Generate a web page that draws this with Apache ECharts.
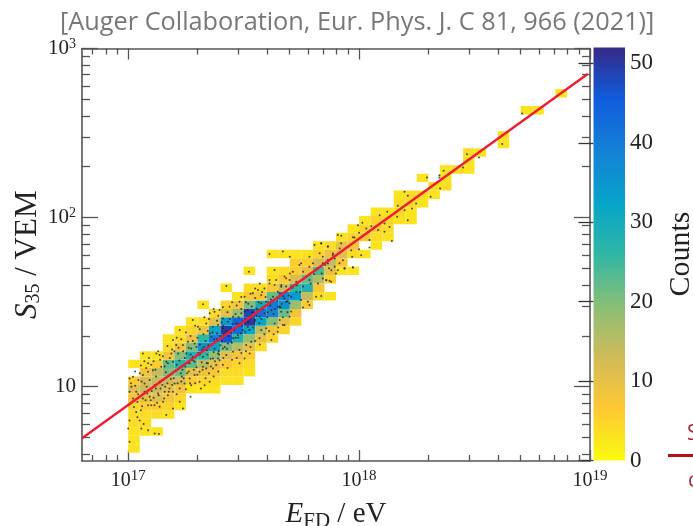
<!DOCTYPE html>
<html><head><meta charset="utf-8">
<style>html,body{margin:0;padding:0;background:#fff}#c{width:693px;height:526px}</style>
<script src="https://cdn.jsdelivr.net/npm/echarts@6/dist/echarts.min.js"></script>
</head><body><div id="c"></div>
<script>
// ---- data, in log10 units ----
const xRange = [16.8, 19];
const yRange = [0.5606, 3];
const binWidth = 0.05;
const xBinStart = 17;
const yBinStart = 1.01;
// per column: first row, then counts going up (0 = empty bin)
const columnFirstRow = [-8,-6,-6,-4,-3,-1,-1,-1,0,0,1,4,5,6,7,9,10,10,13,13,15,16,17,19,19,21,22,23,25,25,27,0,28,0,32,32,0,34];
const columnCounts = [
 [3,3,3,4,4,5,8,11,6,0,3],
 [3,4,4,6,10,13,12,8,4,3],
 [3,0,4,6,11,13,14,14,6,3],
 [3,5,8,10,13,20,22,8,4,3],
 [3,5,8,12,21,27,20,8,4,3],
 [3,6,10,22,28,20,9,5,3],
 [3,5,9,15,26,36,26,9,4,0,3],
 [3,4,7,10,18,32,40,32,11,4],
 [3,4,7,11,20,46,50,34,10,5,0,3],
 [3,4,5,8,15,28,42,44,18,8,3],
 [3,4,6,10,18,32,50,48,20,7,4,0,3],
 [4,10,15,32,42,30,7,4],
 [5,8,20,38,40,22,7,4,3,0,3],
 [5,10,22,36,38,14,6,4,0,3],
 [5,8,18,34,26,12,6,6,3],
 [6,14,28,22,10,6,3],
 [4,7,16,24,12,5,3],
 [3,0,5,10,14,9,4],
 [3,7,11,10,3],
 [3,0,4,8,5,3],
 [3,0,7,5,3],
 [3,4,6,5,3],
 [3,4,5,3],
 [3,4,4,3],
 [3,3,4,4],
 [3,4,0,3],
 [3,4],
 [4,3,3],
 [4],
 [3,3,4],
 [3],
 [],
 [3,4],
 [],
 [3],
 [3],
 [],
 [3]
];
// individual events: logE, logS pairs
const eventPairs = [
17.00,.753,17.006,.674,17.05,.80,17.04,.82,17.057,.753,17.067,.78,17.086,.743,17.115,.723,17.133,.72,17.035,.85,17.006,.80,
17.086,1.138,17.194,1.276,17.223,1.335,17.122,1.197,17.136,1.187,17.064,1.197,17.006,1.049,17.021,1.059,17.05,1.079,17.064,1.069,17.086,1.088,17.107,1.098,17.143,1.118,17.172,1.138,17.194,1.147,17.216,1.197,17.237,1.246,17.208,1.246,17.187,1.197,17.165,1.147,17.259,1.266,17.252,1.197,17.273,1.226,17.288,1.256,
17.014,.999,17.035,.97,17.021,.93,17.006,.97,17.071,1.019,17.093,1.039,17.114,1.009,17.136,1.029,17.158,1.049,17.179,1.069,17.071,.97,17.093,.94,17.114,.891,17.136,.881,17.1,.891,17.086,.891,17.064,.93,17.151,.911,17.172,.95,17.194,.97,17.223,.99,17.244,1.019,17.201,1.019,17.266,1.049,17.288,1.069,17.309,1.029,17.179,.99,17.158,.97,17.129,.96,17.223,.911,17.237,.871,17.194,.871,17.165,.832,17.273,1.009,17.331,1.009,17.353,1.029,17.309,1.088,17.338,1.108,17.266,1.138,17.288,1.147,17.324,1.177,17.367,1.108,17.381,1.128,17.389,1.167,
17.012,1.02,17.03,1.005,17.043,.955,17.058,1.03,17.08,1.0,17.102,.975,17.121,1.06,17.148,1.01,17.163,1.085,17.185,1.045,17.205,1.095,17.232,1.06,17.248,1.12,17.262,1.09,17.279,1.175,17.296,1.115,17.303,1.2,17.318,1.145,17.34,1.215,17.357,1.165,17.374,1.225,17.392,1.21,17.405,1.27,17.418,1.235,17.436,1.3,17.449,1.26,17.46,1.335,17.477,1.29,17.492,1.36,17.507,1.325,17.52,1.385,17.54,1.35,17.555,1.42,17.568,1.375,17.583,1.46,17.602,1.41,17.615,1.48,17.63,1.43,17.645,1.51,17.66,1.47,17.672,1.535,17.69,1.505,
17.425,1.595,17.523,1.68,17.324,1.487,17.374,1.443,17.41,1.404,17.353,1.434,17.396,1.453,17.439,1.473,17.482,1.503,17.504,1.532,17.54,1.552,17.562,1.572,17.576,1.542,17.612,1.611,17.641,1.631,17.663,1.591,17.684,1.641,17.7,1.67,17.28,1.394,17.302,1.355,17.338,1.374,17.367,1.355,17.353,1.315,17.389,1.365,17.41,1.345,17.432,1.384,17.454,1.414,17.468,1.374,17.49,1.434,17.518,1.453,17.533,1.414,17.555,1.463,17.576,1.493,17.598,1.503,17.627,1.532,17.656,1.552,17.677,1.522,17.699,1.493,17.648,1.473,17.663,1.443,17.62,1.453,17.591,1.434,17.569,1.414,17.547,1.384,17.518,1.355,17.497,1.335,17.475,1.305,17.454,1.286,17.432,1.256,17.41,1.226,17.389,1.197,17.367,1.167,17.345,1.138,17.324,1.118,17.396,1.157,17.425,1.187,17.454,1.207,17.482,1.217,17.511,1.246,17.533,1.266,17.482,1.138,17.504,1.167,17.526,1.197,17.569,1.286,17.62,1.276,17.648,1.325,17.634,1.374,17.677,1.365,17.699,1.414,17.598,1.345,17.576,1.335,
17.612,1.785,17.67,1.799,17.70,1.769,17.634,1.69,17.742,1.72,17.785,1.769,17.829,1.789,17.807,1.838,17.865,1.828,17.836,1.848,17.908,1.897,17.922,1.848,17.973,1.884,17.951,1.828,18.0,1.813,17.97,1.769,17.915,1.73,17.894,1.71,17.937,1.70,17.973,1.706,17.9,1.67,17.858,1.631,17.879,1.621,17.822,1.611,17.836,1.536,17.814,1.532,17.778,1.503,17.785,1.483,17.757,1.469,17.706,1.444,17.749,1.513,17.706,1.532,17.728,1.562,17.757,1.592,17.785,1.631,17.814,1.69,17.843,1.73,17.865,1.75,17.886,1.779,17.749,1.73,17.713,1.68,17.757,1.68,17.785,1.71,17.8,1.73,17.677,1.651,17.699,1.631,17.728,1.621,17.656,1.395,17.67,1.365,17.656,1.473,17.684,1.503,17.648,1.562,17.634,1.602,17.612,1.631,17.663,1.602,17.684,1.592,17.706,1.592,
18.882,2.744,18.706,2.616,18.764,2.626,18.62,2.488,18.62,2.435,18.467,2.375,18.519,2.356,18.45,2.297,18.366,2.277,18.348,2.251,18.294,2.237,18.348,2.237,18.351,2.172,18.31,2.123,18.197,2.153,18.211,2.129,18.168,2.07,18.247,2.083,18.229,2.054,18.197,2.044,18.211,1.985,18.165,2.005,18.122,2.034,18.089,2.014,18.11,1.965,18.132,1.945,18.11,1.916,18.142,1.861,18.082,1.926,18.014,1.969,17.995,1.955,18.053,1.949,18.031,1.936,18,1.91,18.045,1.867,18.045,1.823,17.923,1.892,17.98,1.882,18.009,1.778,17.973,1.705,17.966,1.807,17.93,1.748,17.908,1.689,17.937,1.699,17.872,1.626,17.858,1.63,17.843,1.64,17.887,1.788,17.916,1.817,17.865,1.831,17.836,1.847,17.894,1.758,17.865,1.728,17.843,1.768,17.88,1.689,
17.31,1.19,17.327,1.235,17.343,1.19,17.36,1.25,17.37,1.205,17.385,1.28,17.4,1.245,17.415,1.31,17.428,1.225,17.44,1.325,17.455,1.34,17.465,1.29,17.478,1.37,17.488,1.315,17.5,1.39,17.512,1.4,17.525,1.335,17.538,1.44,17.55,1.395,17.563,1.455,17.577,1.4,17.59,1.475,17.605,1.44,17.618,1.515,17.635,1.46,17.65,1.525,17.665,1.49,17.68,1.56,17.695,1.54,17.712,1.585,17.73,1.6,17.745,1.56,17.76,1.64,17.775,1.655,17.79,1.61,17.805,1.665,17.82,1.7,17.838,1.67,17.853,1.72,17.87,1.7,
17.21,1.13,17.222,1.155,17.235,1.1,17.245,1.17,17.258,1.14,17.27,1.19,17.282,1.155,17.295,1.235,17.31,1.25,17.32,1.22,17.335,1.27,17.347,1.245,17.36,1.295,17.372,1.28,17.385,1.315,17.398,1.3,17.412,1.36,17.425,1.33,17.44,1.4,17.452,1.37,17.465,1.43,17.478,1.41,17.49,1.46,17.505,1.445,17.52,1.49,17.535,1.475,17.55,1.525,17.565,1.5,17.58,1.56,17.595,1.53,
17.06,.885,17.075,.92,17.11,.935,17.125,.905,17.14,.99,17.155,.93,17.17,1.02,17.19,1.01,17.21,.955,17.23,1.03,17.25,.985,17.27,.94,17.29,1.02,17.315,.99,17.335,1.05,17.35,1.08,17.37,1.06,17.39,1.09,17.41,1.13,17.43,1.11,17.45,1.16,17.47,1.17,17.49,1.2,17.51,1.21,17.53,1.235,17.55,1.27,17.57,1.25,17.59,1.31,17.61,1.33,17.63,1.31,17.65,1.35,17.67,1.41,17.69,1.44,
17.03,1.09,17.055,1.125,17.07,1.15,17.09,1.17,17.11,1.15,17.13,1.21,17.15,1.18,17.17,1.24,17.19,1.22,17.21,1.29,17.23,1.28,17.25,1.32,17.27,1.3,17.29,1.36,17.31,1.34,17.33,1.41,17.35,1.4,17.37,1.46,17.39,1.42,17.41,1.47,17.43,1.44,17.45,1.5,17.47,1.48,17.49,1.53,17.51,1.5,17.53,1.55,17.55,1.58,17.57,1.61,17.59,1.58,
17.01,.9,17.025,.88,17.04,.91,17.055,.86,17.083,.96,17.098,.92,17.12,.99,17.132,.95,17.146,1.04,17.16,1.0,17.176,.97,17.198,1.05,17.214,1.02,17.228,1.08,17.24,1.05,17.255,1.08,17.268,1.02,17.284,1.1,17.3,1.07,17.322,1.1,17.34,1.14,17.358,1.12,17.376,1.15,17.394,1.19,17.412,1.17,17.044,1.04,17.078,1.11,17.1,1.13,17.118,1.1,17.138,1.16,17.158,1.12,17.18,1.17,17.2,1.21,17.218,1.23,17.238,1.21,17.262,1.23,17.28,1.27,17.3,1.29,17.326,1.31,17.345,1.33,17.365,1.32,17.385,1.39,17.405,1.38
];
// fitted calibration line, logE and logS
const fitLogE = [16.8, 18.99];
const fitLogS = [0.695, 2.849];
const colorStops = ['#f9fb0e','#fec832','#d1bb59','#87bf77','#2eb7a4','#06a4ca','#1481d6','#0f5cdd','#352a87'];
const countMax = 52;
const colorbarTicks = 10;
const xMajorExp = [17,18,19];
const yMajorExp = [1,2,3];
const minorDigits = [2,3,4,5,6,7,8,9];

const pow = e => Math.pow(10, e);
const cells = [];
columnCounts.forEach((col, k) => col.forEach((n, i) => {
  if (!n) return;
  const j = columnFirstRow[k] + i;
  const e0 = xBinStart + k * binWidth, s0 = yBinStart + j * binWidth;
  cells.push([pow(e0), pow(s0), pow(e0 + binWidth), pow(s0 + binWidth), n]);
}));
const events = [];
for (let i = 0; i < eventPairs.length; i += 2) events.push([pow(eventPairs[i]), pow(eventPairs[i + 1])]);
const fit = fitLogE.map((e, i) => [pow(e), pow(fitLogS[i])]);

function minors(range) {
  const out = [];
  for (let d = Math.floor(range[0]); d < Math.ceil(range[1]); d++)
    minorDigits.forEach(m => { const v = m * pow(d); if (v >= pow(range[0]) && v <= pow(range[1])) out.push(v); });
  return out;
}
const axisCol = '#555';
const serif = '"Liberation Serif","Times New Roman",serif';
function tickAxis(range, position, values, len, extra) {
  return Object.assign({
    type: 'log', logBase: 10, position, gridIndex: 0, min: pow(range[0]), max: pow(range[1]),
    splitLine: {show: false}, minorTick: {show: false}, minorSplitLine: {show: false},
    axisLine: {show: false},
    axisLabel: {show: false},
    axisTick: {show: true, inside: true, length: len, alignWithLabel: true, customValues: values, lineStyle: {color: axisCol, width: 1.3}}
  }, extra || {});
}
const line = {show: true, onZero: false, lineStyle: {color: axisCol, width: 1.6}};
function expLabel(v, plainOne) {
  const e = Math.round(Math.log10(v));
  return plainOne && e === 1 ? '{b|10}' : '{b|10}{s|' + e + '}';
}
const labelRich = s => ({b: {fontFamily: serif, fontSize: s[0], color: '#222'},
                         s: {fontFamily: serif, fontSize: s[1], color: '#222', padding: [0, 0, s[2], 0], verticalAlign: 'top'}});
const xMajor = xMajorExp.map(pow), yMajor = yMajorExp.map(pow);

const option = {
  backgroundColor: '#fff',
  animation: false,
  title: {text: '[Auger Collaboration, Eur. Phys. J. C 81, 966 (2021)]', left: 55, top: 5,
          textStyle: {fontFamily: '"Open Sans"', fontWeight: 400, fontSize: 25.3, color: '#777'}},
  grid: [
    {left: 82, top: 48.5, width: 508, height: 412.5, show: false, outerBoundsMode: 'none'},
    {left: 593.5, top: 47.5, width: 31.5, height: 413, show: false, outerBoundsMode: 'none'}
  ],
  visualMap: {show: false, type: 'continuous', min: 0, max: countMax, seriesIndex: 0, dimension: 4, inRange: {color: colorStops}},
  xAxis: [
    tickAxis(xRange, 'bottom', xMajor, 11, {
      axisLine: line,
      name: '{i|E}{u|FD} / eV', nameLocation: 'middle', nameGap: 36,
      nameTextStyle: {fontFamily: serif, fontSize: 29, color: '#222',
        rich: {i: {fontFamily: serif, fontStyle: 'italic', fontSize: 29, color: '#222'},
               u: {fontFamily: serif, fontSize: 21, color: '#222', padding: [14, 0, 0, 0]}}},
      axisLabel: {show: true, margin: 8, customValues: xMajor, formatter: v => expLabel(v), rich: labelRich([20, 15, 9])}
    }),
    tickAxis(xRange, 'bottom', minors(xRange), 6),
    tickAxis(xRange, 'top', xMajor, 11, {axisLine: line}),
    tickAxis(xRange, 'top', minors(xRange), 6),
    {type: 'value', gridIndex: 1, show: false, min: 0, max: 1}
  ],
  yAxis: [
    tickAxis(yRange, 'left', yMajor, 16, {
      axisLine: line, nameMoveOverlap: false,
      name: '{i|S}{u|35} / VEM', nameLocation: 'middle', nameGap: 38, nameRotate: 90,
      nameTextStyle: {fontFamily: serif, fontSize: 31, color: '#222',
        rich: {i: {fontFamily: serif, fontStyle: 'italic', fontSize: 31, color: '#222'},
               u: {fontFamily: serif, fontSize: 20, color: '#222', padding: [12, 0, 0, 0]}}},
      axisLabel: {show: true, margin: 6, customValues: yMajor, formatter: v => expLabel(v, true), rich: labelRich([21, 14, 9])}
    }),
    tickAxis(yRange, 'left', minors(yRange), 8),
    tickAxis(yRange, 'right', yMajor, 16, {axisLine: line}),
    tickAxis(yRange, 'right', minors(yRange), 8),
    {type: 'value', gridIndex: 1, position: 'right', min: 0, max: countMax, interval: colorbarTicks,
     axisLine: {show: false}, splitLine: {show: false},
     axisTick: {show: true, inside: true, length: 15, lineStyle: {color: '#333', width: 1.3}},
     axisLabel: {show: true, margin: 5, fontFamily: serif, fontSize: 23, color: '#222'},
     name: 'Counts', nameLocation: 'middle', nameGap: 41, nameRotate: 90,
     nameTextStyle: {fontFamily: serif, fontSize: 30, color: '#222'}}
  ],
  series: [
    {type: 'custom', xAxisIndex: 0, yAxisIndex: 0, coordinateSystem: 'cartesian2d', clip: true, silent: true,
     encode: {x: [0, 2], y: [1, 3]}, data: cells,
     renderItem(params, api) {
       const a = api.coord([api.value(0), api.value(1)]), b = api.coord([api.value(2), api.value(3)]);
       return {type: 'rect', shape: {x: a[0], y: b[1], width: b[0] - a[0], height: a[1] - b[1]},
               style: {fill: api.visual('color')}};
     }},
    {type: 'scatter', xAxisIndex: 0, yAxisIndex: 0, data: events, symbolSize: 2, silent: true,
     itemStyle: {color: '#222218'}},
    {type: 'line', xAxisIndex: 0, yAxisIndex: 0, data: fit, showSymbol: false, silent: true,
     lineStyle: {color: '#ec1c34', width: 2.4}},
    {type: 'custom', xAxisIndex: 4, yAxisIndex: 4, coordinateSystem: 'cartesian2d', silent: true,
     data: [[0, 0, 1, countMax]], encode: {x: [0, 2], y: [1, 3]},
     renderItem(params, api) {
       const a = api.coord([api.value(0), api.value(1)]), b = api.coord([api.value(2), api.value(3)]);
       return {type: 'rect', shape: {x: a[0], y: b[1], width: b[0] - a[0], height: a[1] - b[1]},
         style: {fill: new echarts.graphic.LinearGradient(0, 1, 0, 0,
           colorStops.map((c, i) => ({offset: i / (colorStops.length - 1), color: c})))}};
     }}
  ],
  graphic: [
    {type: 'line', silent: true, shape: {x1: 668, y1: 455.5, x2: 693, y2: 455.5}, style: {stroke: '#b5101c', lineWidth: 3}},
    {type: 'text', silent: true, left: 687, top: 424, style: {text: 'S', fontFamily: '"Open Sans"', fontSize: 21, fill: '#a8283a'}},
    {type: 'text', silent: true, left: 688, top: 471, style: {text: 'c', fontFamily: '"Open Sans"', fontSize: 21, fill: '#a8283a'}}
  ]
};
echarts.init(document.getElementById('c'), null, {renderer: 'canvas'}).setOption(option);
</script></body></html>
